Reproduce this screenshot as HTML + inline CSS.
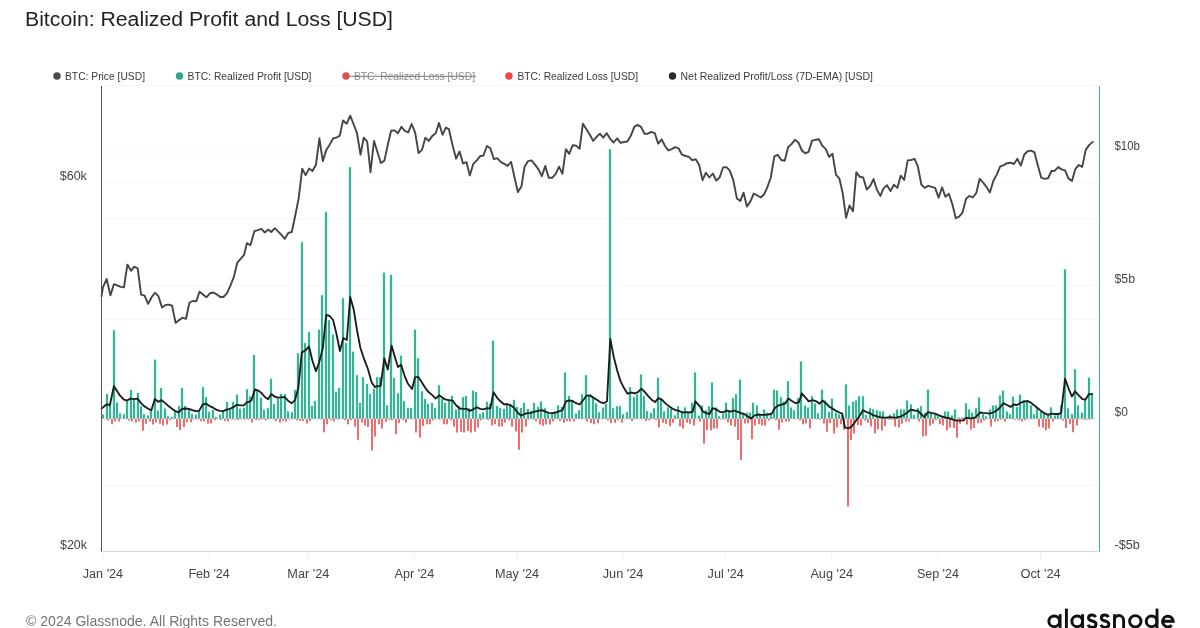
<!DOCTYPE html>
<html><head><meta charset="utf-8"><title>Bitcoin: Realized Profit and Loss [USD]</title>
<style>
html,body{margin:0;padding:0;background:#fff;}
body{width:1200px;height:628px;overflow:hidden;font-family:"Liberation Sans",sans-serif;}
svg{display:block;will-change:transform;opacity:0.999;font-family:"Liberation Sans",sans-serif;}
.t{font-size:20px;fill:#222;}
.lg text{font-size:11px;fill:#3a3a3a;}
.ax text{font-size:12px;fill:#444;}
.xl text{font-size:12.5px;fill:#444;}
.grid line{stroke:#f5f5f5;stroke-width:1;}
.tk line{stroke:#efefef;stroke-width:1;}
.ft{font-size:14px;fill:#757575;}
</style></head><body>
<svg width="1200" height="628" viewBox="0 0 1200 628">
<rect width="1200" height="628" fill="#fff"/>
<text class="t" x="25" y="26" textLength="368" lengthAdjust="spacingAndGlyphs">Bitcoin: Realized Profit and Loss [USD]</text>
<g class="lg">
<circle cx="57" cy="76" r="3.7" fill="#4a4a4a"/><text x="65" y="79.7" textLength="80" lengthAdjust="spacingAndGlyphs">BTC: Price [USD]</text>
<circle cx="179.5" cy="76" r="3.7" fill="#2ba98a"/><text x="187.5" y="79.7" textLength="124" lengthAdjust="spacingAndGlyphs">BTC: Realized Profit [USD]</text>
<circle cx="346" cy="76" r="3.7" fill="#ee4848"/><text x="354" y="79.7" textLength="121" lengthAdjust="spacingAndGlyphs" fill="#8a8a8a" style="fill:#8a8a8a">BTC: Realized Loss [USD]</text>
<line x1="343" x2="476" y1="76.3" y2="76.3" stroke="#7a7a7a" stroke-width="1"/>
<circle cx="509" cy="76" r="3.7" fill="#ee4848"/><text x="517.5" y="79.7" textLength="120.5" lengthAdjust="spacingAndGlyphs">BTC: Realized Loss [USD]</text>
<circle cx="672.5" cy="76" r="3.7" fill="#2b2b2b"/><text x="680.5" y="79.7" textLength="192.5" lengthAdjust="spacingAndGlyphs">Net Realized Profit/Loss (7D-EMA) [USD]</text>
</g>
<g class="grid"><line x1="104" x2="1097" y1="85.5" y2="85.5"/><line x1="104" x2="1097" y1="152" y2="152"/><line x1="104" x2="1097" y1="182.3" y2="182.3"/><line x1="104" x2="1097" y1="218.8" y2="218.8"/><line x1="104" x2="1097" y1="285.4" y2="285.4"/><line x1="104" x2="1097" y1="319.3" y2="319.3"/><line x1="104" x2="1097" y1="352" y2="352"/><line x1="104" x2="1097" y1="418.7" y2="418.7"/><line x1="104" x2="1097" y1="485.4" y2="485.4"/></g>
<line x1="102" x2="1100" y1="551.5" y2="551.5" stroke="#d9d9d9" stroke-width="1"/>
<g class="tk"><line x1="103" x2="103" y1="551.5" y2="559"/><line x1="209.1" x2="209.1" y1="551.5" y2="559"/><line x1="308.3" x2="308.3" y1="551.5" y2="559"/><line x1="414.4" x2="414.4" y1="551.5" y2="559"/><line x1="517" x2="517" y1="551.5" y2="559"/><line x1="623.1" x2="623.1" y1="551.5" y2="559"/><line x1="725.7" x2="725.7" y1="551.5" y2="559"/><line x1="831.8" x2="831.8" y1="551.5" y2="559"/><line x1="937.9" x2="937.9" y1="551.5" y2="559"/><line x1="1040.5" x2="1040.5" y1="551.5" y2="559"/></g>
<path d="M101.1 418.7h3.8v-4.9h-3.8zM105.1 418.7h3.8v-25.5h-3.8zM108.1 418.7h3.8v-15.8h-3.8zM112.1 418.7h3.8v-89.1h-3.8zM115.1 418.7h3.8v-17h-3.8zM118.1 418.7h3.8v-6.1h-3.8zM122.1 418.7h3.8v-5.2h-3.8zM125.1 418.7h3.8v-18.5h-3.8zM129.1 418.7h3.8v-29.5h-3.8zM132.1 418.7h3.8v-19.7h-3.8zM136.1 418.7h3.8v-26.6h-3.8zM139.1 418.7h3.8v-12.9h-3.8zM142.1 418.7h3.8v-5.2h-3.8zM146.1 418.7h3.8v-4h-3.8zM149.1 418.7h3.8v-8.2h-3.8zM153.1 418.7h3.8v-59.8h-3.8zM156.1 418.7h3.8v-9h-3.8zM159.1 418.7h3.8v-31.4h-3.8zM163.1 418.7h3.8v-11.1h-3.8zM166.1 418.7h3.8v-3.2h-3.8zM173.1 418.7h3.8v-7.8h-3.8zM177.1 418.7h3.8v-13.5h-3.8zM180.1 418.7h3.8v-31.4h-3.8zM183.1 418.7h3.8v-13.5h-3.8zM187.1 418.7h3.8v-10.8h-3.8zM190.1 418.7h3.8v-5.6h-3.8zM194.1 418.7h3.8v-4.8h-3.8zM197.1 418.7h3.8v-8.8h-3.8zM201.1 418.7h3.8v-32.3h-3.8zM204.1 418.7h3.8v-22.3h-3.8zM207.1 418.7h3.8v-7.6h-3.8zM211.1 418.7h3.8v-9.6h-3.8zM218.1 418.7h3.8v-4.8h-3.8zM221.1 418.7h3.8v-7.8h-3.8zM225.1 418.7h3.8v-17.5h-3.8zM228.1 418.7h3.8v-9.6h-3.8zM231.1 418.7h3.8v-17.5h-3.8zM235.1 418.7h3.8v-24.7h-3.8zM238.1 418.7h3.8v-10.8h-3.8zM242.1 418.7h3.8v-11.8h-3.8zM245.1 418.7h3.8v-30.3h-3.8zM248.1 418.7h3.8v-23.1h-3.8zM252.1 418.7h3.8v-64.5h-3.8zM255.1 418.7h3.8v-28.7h-3.8zM259.1 418.7h3.8v-21.5h-3.8zM262.1 418.7h3.8v-9.6h-3.8zM266.1 418.7h3.8v-11.2h-3.8zM269.1 418.7h3.8v-40.6h-3.8zM272.1 418.7h3.8v-15.4h-3.8zM276.1 418.7h3.8v-20.7h-3.8zM279.1 418.7h3.8v-25.5h-3.8zM283.1 418.7h3.8v-25.5h-3.8zM286.1 418.7h3.8v-8.3h-3.8zM290.1 418.7h3.8v-7.2h-3.8zM293.1 418.7h3.8v-29.5h-3.8zM296.1 418.7h3.8v-66.1h-3.8zM300.1 418.7h3.8v-177.3h-3.8zM303.1 418.7h3.8v-76.4h-3.8zM307.1 418.7h3.8v-87.5h-3.8zM310.1 418.7h3.8v-13.5h-3.8zM313.1 418.7h3.8v-18.6h-3.8zM317.1 418.7h3.8v-89.8h-3.8zM320.1 418.7h3.8v-124.2h-3.8zM324.1 418.7h3.8v-207.3h-3.8zM327.1 418.7h3.8v-99.3h-3.8zM331.1 418.7h3.8v-84.8h-3.8zM334.1 418.7h3.8v-27.8h-3.8zM337.1 418.7h3.8v-31.4h-3.8zM341.1 418.7h3.8v-121.3h-3.8zM344.1 418.7h3.8v-76.5h-3.8zM348.1 418.7h3.8v-252.3h-3.8zM351.1 418.7h3.8v-67.7h-3.8zM355.1 418.7h3.8v-44.3h-3.8zM358.1 418.7h3.8v-16.4h-3.8zM361.1 418.7h3.8v-42.2h-3.8zM365.1 418.7h3.8v-35.5h-3.8zM368.1 418.7h3.8v-25.5h-3.8zM372.1 418.7h3.8v-30.8h-3.8zM375.1 418.7h3.8v-42.2h-3.8zM378.1 418.7h3.8v-42.2h-3.8zM382.1 418.7h3.8v-146.8h-3.8zM385.1 418.7h3.8v-14.3h-3.8zM389.1 418.7h3.8v-144.5h-3.8zM392.1 418.7h3.8v-41.4h-3.8zM396.1 418.7h3.8v-26.3h-3.8zM399.1 418.7h3.8v-63.7h-3.8zM402.1 418.7h3.8v-18.3h-3.8zM406.1 418.7h3.8v-11.5h-3.8zM409.1 418.7h3.8v-11.5h-3.8zM413.1 418.7h3.8v-89.8h-3.8zM416.1 418.7h3.8v-61.3h-3.8zM420.1 418.7h3.8v-28.3h-3.8zM423.1 418.7h3.8v-20.4h-3.8zM426.1 418.7h3.8v-15.4h-3.8zM430.1 418.7h3.8v-16.4h-3.8zM433.1 418.7h3.8v-11.5h-3.8zM437.1 418.7h3.8v-34.2h-3.8zM440.1 418.7h3.8v-20.7h-3.8zM443.1 418.7h3.8v-16.4h-3.8zM447.1 418.7h3.8v-19.8h-3.8zM450.1 418.7h3.8v-23.6h-3.8zM454.1 418.7h3.8v-10h-3.8zM457.1 418.7h3.8v-13.5h-3.8zM461.1 418.7h3.8v-22.3h-3.8zM464.1 418.7h3.8v-23.6h-3.8zM467.1 418.7h3.8v-11.2h-3.8zM471.1 418.7h3.8v-28.7h-3.8zM474.1 418.7h3.8v-27.4h-3.8zM478.1 418.7h3.8v-5.6h-3.8zM481.1 418.7h3.8v-7.2h-3.8zM485.1 418.7h3.8v-17.5h-3.8zM488.1 418.7h3.8v-15.4h-3.8zM491.1 418.7h3.8v-78.8h-3.8zM495.1 418.7h3.8v-13.5h-3.8zM498.1 418.7h3.8v-11.5h-3.8zM502.1 418.7h3.8v-10.4h-3.8zM505.1 418.7h3.8v-15.8h-3.8zM508.1 418.7h3.8v-15.4h-3.8zM512.1 418.7h3.8v-19.4h-3.8zM515.1 418.7h3.8v-12.4h-3.8zM519.1 418.7h3.8v-11.5h-3.8zM522.1 418.7h3.8v-16.4h-3.8zM526.1 418.7h3.8v-10.4h-3.8zM529.1 418.7h3.8v-8.8h-3.8zM532.1 418.7h3.8v-16.4h-3.8zM536.1 418.7h3.8v-12.4h-3.8zM539.1 418.7h3.8v-18h-3.8zM543.1 418.7h3.8v-11.2h-3.8zM546.1 418.7h3.8v-6.1h-3.8zM550.1 418.7h3.8v-6.1h-3.8zM553.1 418.7h3.8v-6.8h-3.8zM556.1 418.7h3.8v-14.3h-3.8zM560.1 418.7h3.8v-12.4h-3.8zM563.1 418.7h3.8v-46.7h-3.8zM567.1 418.7h3.8v-23.6h-3.8zM570.1 418.7h3.8v-18h-3.8zM574.1 418.7h3.8v-6.1h-3.8zM577.1 418.7h3.8v-9.2h-3.8zM580.1 418.7h3.8v-25.2h-3.8zM584.1 418.7h3.8v-44.3h-3.8zM587.1 418.7h3.8v-24.4h-3.8zM591.1 418.7h3.8v-21.2h-3.8zM594.1 418.7h3.8v-16.1h-3.8zM597.1 418.7h3.8v-7.3h-3.8zM601.1 418.7h3.8v-12.1h-3.8zM604.1 418.7h3.8v-15.6h-3.8zM608.1 418.7h3.8v-270.3h-3.8zM611.1 418.7h3.8v-11.2h-3.8zM615.1 418.7h3.8v-13.2h-3.8zM618.1 418.7h3.8v-13.2h-3.8zM621.1 418.7h3.8v-5.3h-3.8zM625.1 418.7h3.8v-7.3h-3.8zM628.1 418.7h3.8v-32.3h-3.8zM632.1 418.7h3.8v-22.3h-3.8zM635.1 418.7h3.8v-25.2h-3.8zM639.1 418.7h3.8v-45.1h-3.8zM642.1 418.7h3.8v-23.3h-3.8zM645.1 418.7h3.8v-8.4h-3.8zM649.1 418.7h3.8v-6.4h-3.8zM652.1 418.7h3.8v-11.2h-3.8zM656.1 418.7h3.8v-41.4h-3.8zM659.1 418.7h3.8v-20.1h-3.8zM662.1 418.7h3.8v-8.1h-3.8zM666.1 418.7h3.8v-12.1h-3.8zM669.1 418.7h3.8v-10.8h-3.8zM673.1 418.7h3.8v-4.1h-3.8zM676.1 418.7h3.8v-13.2h-3.8zM680.1 418.7h3.8v-8.4h-3.8zM683.1 418.7h3.8v-12.1h-3.8zM686.1 418.7h3.8v-6.1h-3.8zM690.1 418.7h3.8v-16.8h-3.8zM693.1 418.7h3.8v-47h-3.8zM697.1 418.7h3.8v-3.7h-3.8zM700.1 418.7h3.8v-14h-3.8zM704.1 418.7h3.8v-9.2h-3.8zM707.1 418.7h3.8v-13.2h-3.8zM710.1 418.7h3.8v-37.1h-3.8zM714.1 418.7h3.8v-12.1h-3.8zM717.1 418.7h3.8v-3.2h-3.8zM721.1 418.7h3.8v-6.1h-3.8zM724.1 418.7h3.8v-16.8h-3.8zM727.1 418.7h3.8v-8.4h-3.8zM731.1 418.7h3.8v-21.2h-3.8zM734.1 418.7h3.8v-25.2h-3.8zM738.1 418.7h3.8v-39.8h-3.8zM741.1 418.7h3.8v-5.3h-3.8zM745.1 418.7h3.8v-6.8h-3.8zM748.1 418.7h3.8v-6.8h-3.8zM751.1 418.7h3.8v-16.8h-3.8zM755.1 418.7h3.8v-14h-3.8zM758.1 418.7h3.8v-5.3h-3.8zM762.1 418.7h3.8v-10h-3.8zM765.1 418.7h3.8v-6.8h-3.8zM769.1 418.7h3.8v-6.1h-3.8zM772.1 418.7h3.8v-29.8h-3.8zM775.1 418.7h3.8v-29.1h-3.8zM779.1 418.7h3.8v-22.3h-3.8zM782.1 418.7h3.8v-18h-3.8zM786.1 418.7h3.8v-38.2h-3.8zM789.1 418.7h3.8v-12.1h-3.8zM792.1 418.7h3.8v-9.2h-3.8zM796.1 418.7h3.8v-21.2h-3.8zM799.1 418.7h3.8v-58.1h-3.8zM803.1 418.7h3.8v-14h-3.8zM806.1 418.7h3.8v-12.1h-3.8zM810.1 418.7h3.8v-23.3h-3.8zM813.1 418.7h3.8v-16.1h-3.8zM816.1 418.7h3.8v-6.1h-3.8zM820.1 418.7h3.8v-29.8h-3.8zM823.1 418.7h3.8v-19.1h-3.8zM827.1 418.7h3.8v-7.6h-3.8zM830.1 418.7h3.8v-20.8h-3.8zM834.1 418.7h3.8v-6.8h-3.8zM837.1 418.7h3.8v-5.3h-3.8zM840.1 418.7h3.8v-4.5h-3.8zM844.1 418.7h3.8v-35h-3.8zM847.1 418.7h3.8v-14h-3.8zM851.1 418.7h3.8v-17.7h-3.8zM854.1 418.7h3.8v-19.1h-3.8zM857.1 418.7h3.8v-23.3h-3.8zM861.1 418.7h3.8v-23.3h-3.8zM864.1 418.7h3.8v-4.5h-3.8zM868.1 418.7h3.8v-11.2h-3.8zM871.1 418.7h3.8v-10h-3.8zM875.1 418.7h3.8v-9.2h-3.8zM878.1 418.7h3.8v-8.1h-3.8zM881.1 418.7h3.8v-8.1h-3.8zM888.1 418.7h3.8v-4.5h-3.8zM892.1 418.7h3.8v-6.1h-3.8zM895.1 418.7h3.8v-10h-3.8zM899.1 418.7h3.8v-10h-3.8zM902.1 418.7h3.8v-10h-3.8zM905.1 418.7h3.8v-19.1h-3.8zM909.1 418.7h3.8v-15.1h-3.8zM912.1 418.7h3.8v-4.5h-3.8zM916.1 418.7h3.8v-11.2h-3.8zM919.1 418.7h3.8v-13.2h-3.8zM923.1 418.7h3.8v-6.8h-3.8zM926.1 418.7h3.8v-29.8h-3.8zM929.1 418.7h3.8v-6.1h-3.8zM933.1 418.7h3.8v-4.5h-3.8zM936.1 418.7h3.8v-3.2h-3.8zM940.1 418.7h3.8v-3.2h-3.8zM943.1 418.7h3.8v-8.1h-3.8zM946.1 418.7h3.8v-8.1h-3.8zM950.1 418.7h3.8v-4.1h-3.8zM953.1 418.7h3.8v-10h-3.8zM964.1 418.7h3.8v-16.1h-3.8zM967.1 418.7h3.8v-10h-3.8zM970.1 418.7h3.8v-6.8h-3.8zM974.1 418.7h3.8v-11.2h-3.8zM977.1 418.7h3.8v-22h-3.8zM981.1 418.7h3.8v-5.3h-3.8zM984.1 418.7h3.8v-3.2h-3.8zM988.1 418.7h3.8v-10h-3.8zM991.1 418.7h3.8v-14h-3.8zM994.1 418.7h3.8v-14h-3.8zM998.1 418.7h3.8v-24h-3.8zM1001.1 418.7h3.8v-28.7h-3.8zM1005.1 418.7h3.8v-8.1h-3.8zM1008.1 418.7h3.8v-5.3h-3.8zM1011.1 418.7h3.8v-22.8h-3.8zM1015.1 418.7h3.8v-12.4h-3.8zM1018.1 418.7h3.8v-24.8h-3.8zM1022.1 418.7h3.8v-19.6h-3.8zM1025.1 418.7h3.8v-18h-3.8zM1029.1 418.7h3.8v-14h-3.8zM1032.1 418.7h3.8v-5.3h-3.8zM1035.1 418.7h3.8v-11.2h-3.8zM1039.1 418.7h3.8v-7.6h-3.8zM1042.1 418.7h3.8v-6.1h-3.8zM1046.1 418.7h3.8v-5.3h-3.8zM1049.1 418.7h3.8v-12.1h-3.8zM1053.1 418.7h3.8v-4.1h-3.8zM1056.1 418.7h3.8v-5.3h-3.8zM1059.1 418.7h3.8v-14h-3.8zM1063.1 418.7h3.8v-150.1h-3.8zM1066.1 418.7h3.8v-11.2h-3.8zM1070.1 418.7h3.8v-5.3h-3.8zM1073.1 418.7h3.8v-50.2h-3.8zM1076.1 418.7h3.8v-14h-3.8zM1080.1 418.7h3.8v-6.8h-3.8zM1083.1 418.7h3.8v-19.6h-3.8zM1087.1 418.7h3.8v-41.8h-3.8zM1090.1 418.7h3.8v-26h-3.8z" fill="#d6fbf5"/>
<path d="M102.1 418.7h1.8v-4.1h-1.8zM106.1 418.7h1.8v-24.7h-1.8zM109.1 418.7h1.8v-15h-1.8zM113.1 418.7h1.8v-88.3h-1.8zM116.1 418.7h1.8v-16.2h-1.8zM119.1 418.7h1.8v-5.3h-1.8zM123.1 418.7h1.8v-4.4h-1.8zM126.1 418.7h1.8v-17.7h-1.8zM130.1 418.7h1.8v-28.7h-1.8zM133.1 418.7h1.8v-18.9h-1.8zM137.1 418.7h1.8v-25.8h-1.8zM140.1 418.7h1.8v-12.1h-1.8zM143.1 418.7h1.8v-4.4h-1.8zM147.1 418.7h1.8v-3.2h-1.8zM150.1 418.7h1.8v-7.4h-1.8zM154.1 418.7h1.8v-59h-1.8zM157.1 418.7h1.8v-8.2h-1.8zM160.1 418.7h1.8v-30.6h-1.8zM164.1 418.7h1.8v-10.3h-1.8zM167.1 418.7h1.8v-2.4h-1.8zM171.1 418.7h1.8v-1.6h-1.8zM174.1 418.7h1.8v-7h-1.8zM178.1 418.7h1.8v-12.7h-1.8zM181.1 418.7h1.8v-30.6h-1.8zM184.1 418.7h1.8v-12.7h-1.8zM188.1 418.7h1.8v-10h-1.8zM191.1 418.7h1.8v-4.8h-1.8zM195.1 418.7h1.8v-4h-1.8zM198.1 418.7h1.8v-8h-1.8zM202.1 418.7h1.8v-31.5h-1.8zM205.1 418.7h1.8v-21.5h-1.8zM208.1 418.7h1.8v-6.8h-1.8zM212.1 418.7h1.8v-8.8h-1.8zM215.1 418.7h1.8v-1.6h-1.8zM219.1 418.7h1.8v-4h-1.8zM222.1 418.7h1.8v-7h-1.8zM226.1 418.7h1.8v-16.7h-1.8zM229.1 418.7h1.8v-8.8h-1.8zM232.1 418.7h1.8v-16.7h-1.8zM236.1 418.7h1.8v-23.9h-1.8zM239.1 418.7h1.8v-10h-1.8zM243.1 418.7h1.8v-11h-1.8zM246.1 418.7h1.8v-29.5h-1.8zM249.1 418.7h1.8v-22.3h-1.8zM253.1 418.7h1.8v-63.7h-1.8zM256.1 418.7h1.8v-27.9h-1.8zM260.1 418.7h1.8v-20.7h-1.8zM263.1 418.7h1.8v-8.8h-1.8zM267.1 418.7h1.8v-10.4h-1.8zM270.1 418.7h1.8v-39.8h-1.8zM273.1 418.7h1.8v-14.6h-1.8zM277.1 418.7h1.8v-19.9h-1.8zM280.1 418.7h1.8v-24.7h-1.8zM284.1 418.7h1.8v-24.7h-1.8zM287.1 418.7h1.8v-7.5h-1.8zM291.1 418.7h1.8v-6.4h-1.8zM294.1 418.7h1.8v-28.7h-1.8zM297.1 418.7h1.8v-65.3h-1.8zM301.1 418.7h1.8v-176.5h-1.8zM304.1 418.7h1.8v-75.6h-1.8zM308.1 418.7h1.8v-86.7h-1.8zM311.1 418.7h1.8v-12.7h-1.8zM314.1 418.7h1.8v-17.8h-1.8zM318.1 418.7h1.8v-89h-1.8zM321.1 418.7h1.8v-123.4h-1.8zM325.1 418.7h1.8v-206.5h-1.8zM328.1 418.7h1.8v-98.5h-1.8zM332.1 418.7h1.8v-84h-1.8zM335.1 418.7h1.8v-27h-1.8zM338.1 418.7h1.8v-30.6h-1.8zM342.1 418.7h1.8v-120.5h-1.8zM345.1 418.7h1.8v-75.7h-1.8zM349.1 418.7h1.8v-251.5h-1.8zM352.1 418.7h1.8v-66.9h-1.8zM356.1 418.7h1.8v-43.5h-1.8zM359.1 418.7h1.8v-15.6h-1.8zM362.1 418.7h1.8v-41.4h-1.8zM366.1 418.7h1.8v-34.7h-1.8zM369.1 418.7h1.8v-24.7h-1.8zM373.1 418.7h1.8v-30h-1.8zM376.1 418.7h1.8v-41.4h-1.8zM379.1 418.7h1.8v-41.4h-1.8zM383.1 418.7h1.8v-146h-1.8zM386.1 418.7h1.8v-13.5h-1.8zM390.1 418.7h1.8v-143.7h-1.8zM393.1 418.7h1.8v-40.6h-1.8zM397.1 418.7h1.8v-25.5h-1.8zM400.1 418.7h1.8v-62.9h-1.8zM403.1 418.7h1.8v-17.5h-1.8zM407.1 418.7h1.8v-10.7h-1.8zM410.1 418.7h1.8v-10.7h-1.8zM414.1 418.7h1.8v-89h-1.8zM417.1 418.7h1.8v-60.5h-1.8zM421.1 418.7h1.8v-27.5h-1.8zM424.1 418.7h1.8v-19.6h-1.8zM427.1 418.7h1.8v-14.6h-1.8zM431.1 418.7h1.8v-15.6h-1.8zM434.1 418.7h1.8v-10.7h-1.8zM438.1 418.7h1.8v-33.4h-1.8zM441.1 418.7h1.8v-19.9h-1.8zM444.1 418.7h1.8v-15.6h-1.8zM448.1 418.7h1.8v-19h-1.8zM451.1 418.7h1.8v-22.8h-1.8zM455.1 418.7h1.8v-9.2h-1.8zM458.1 418.7h1.8v-12.7h-1.8zM462.1 418.7h1.8v-21.5h-1.8zM465.1 418.7h1.8v-22.8h-1.8zM468.1 418.7h1.8v-10.4h-1.8zM472.1 418.7h1.8v-27.9h-1.8zM475.1 418.7h1.8v-26.6h-1.8zM479.1 418.7h1.8v-4.8h-1.8zM482.1 418.7h1.8v-6.4h-1.8zM486.1 418.7h1.8v-16.7h-1.8zM489.1 418.7h1.8v-14.6h-1.8zM492.1 418.7h1.8v-78h-1.8zM496.1 418.7h1.8v-12.7h-1.8zM499.1 418.7h1.8v-10.7h-1.8zM503.1 418.7h1.8v-9.6h-1.8zM506.1 418.7h1.8v-15h-1.8zM509.1 418.7h1.8v-14.6h-1.8zM513.1 418.7h1.8v-18.6h-1.8zM516.1 418.7h1.8v-11.6h-1.8zM520.1 418.7h1.8v-10.7h-1.8zM523.1 418.7h1.8v-15.6h-1.8zM527.1 418.7h1.8v-9.6h-1.8zM530.1 418.7h1.8v-8h-1.8zM533.1 418.7h1.8v-15.6h-1.8zM537.1 418.7h1.8v-11.6h-1.8zM540.1 418.7h1.8v-17.2h-1.8zM544.1 418.7h1.8v-10.4h-1.8zM547.1 418.7h1.8v-5.3h-1.8zM551.1 418.7h1.8v-5.3h-1.8zM554.1 418.7h1.8v-6h-1.8zM557.1 418.7h1.8v-13.5h-1.8zM561.1 418.7h1.8v-11.6h-1.8zM564.1 418.7h1.8v-45.9h-1.8zM568.1 418.7h1.8v-22.8h-1.8zM571.1 418.7h1.8v-17.2h-1.8zM575.1 418.7h1.8v-5.3h-1.8zM578.1 418.7h1.8v-8.4h-1.8zM581.1 418.7h1.8v-24.4h-1.8zM585.1 418.7h1.8v-43.5h-1.8zM588.1 418.7h1.8v-23.6h-1.8zM592.1 418.7h1.8v-20.4h-1.8zM595.1 418.7h1.8v-15.3h-1.8zM598.1 418.7h1.8v-6.5h-1.8zM602.1 418.7h1.8v-11.3h-1.8zM605.1 418.7h1.8v-14.8h-1.8zM609.1 418.7h1.8v-269.5h-1.8zM612.1 418.7h1.8v-10.4h-1.8zM616.1 418.7h1.8v-12.4h-1.8zM619.1 418.7h1.8v-12.4h-1.8zM622.1 418.7h1.8v-4.5h-1.8zM626.1 418.7h1.8v-6.5h-1.8zM629.1 418.7h1.8v-31.5h-1.8zM633.1 418.7h1.8v-21.5h-1.8zM636.1 418.7h1.8v-24.4h-1.8zM640.1 418.7h1.8v-44.3h-1.8zM643.1 418.7h1.8v-22.5h-1.8zM646.1 418.7h1.8v-7.6h-1.8zM650.1 418.7h1.8v-5.6h-1.8zM653.1 418.7h1.8v-10.4h-1.8zM657.1 418.7h1.8v-40.6h-1.8zM660.1 418.7h1.8v-19.3h-1.8zM663.1 418.7h1.8v-7.3h-1.8zM667.1 418.7h1.8v-11.3h-1.8zM670.1 418.7h1.8v-10h-1.8zM674.1 418.7h1.8v-3.3h-1.8zM677.1 418.7h1.8v-12.4h-1.8zM681.1 418.7h1.8v-7.6h-1.8zM684.1 418.7h1.8v-11.3h-1.8zM687.1 418.7h1.8v-5.3h-1.8zM691.1 418.7h1.8v-16h-1.8zM694.1 418.7h1.8v-46.2h-1.8zM698.1 418.7h1.8v-2.9h-1.8zM701.1 418.7h1.8v-13.2h-1.8zM705.1 418.7h1.8v-8.4h-1.8zM708.1 418.7h1.8v-12.4h-1.8zM711.1 418.7h1.8v-36.3h-1.8zM715.1 418.7h1.8v-11.3h-1.8zM718.1 418.7h1.8v-2.4h-1.8zM722.1 418.7h1.8v-5.3h-1.8zM725.1 418.7h1.8v-16h-1.8zM728.1 418.7h1.8v-7.6h-1.8zM732.1 418.7h1.8v-20.4h-1.8zM735.1 418.7h1.8v-24.4h-1.8zM739.1 418.7h1.8v-39h-1.8zM742.1 418.7h1.8v-4.5h-1.8zM746.1 418.7h1.8v-6h-1.8zM749.1 418.7h1.8v-6h-1.8zM752.1 418.7h1.8v-16h-1.8zM756.1 418.7h1.8v-13.2h-1.8zM759.1 418.7h1.8v-4.5h-1.8zM763.1 418.7h1.8v-9.2h-1.8zM766.1 418.7h1.8v-6h-1.8zM770.1 418.7h1.8v-5.3h-1.8zM773.1 418.7h1.8v-29h-1.8zM776.1 418.7h1.8v-28.3h-1.8zM780.1 418.7h1.8v-21.5h-1.8zM783.1 418.7h1.8v-17.2h-1.8zM787.1 418.7h1.8v-37.4h-1.8zM790.1 418.7h1.8v-11.3h-1.8zM793.1 418.7h1.8v-8.4h-1.8zM797.1 418.7h1.8v-20.4h-1.8zM800.1 418.7h1.8v-57.3h-1.8zM804.1 418.7h1.8v-13.2h-1.8zM807.1 418.7h1.8v-11.3h-1.8zM811.1 418.7h1.8v-22.5h-1.8zM814.1 418.7h1.8v-15.3h-1.8zM817.1 418.7h1.8v-5.3h-1.8zM821.1 418.7h1.8v-29h-1.8zM824.1 418.7h1.8v-18.3h-1.8zM828.1 418.7h1.8v-6.8h-1.8zM831.1 418.7h1.8v-20h-1.8zM835.1 418.7h1.8v-6h-1.8zM838.1 418.7h1.8v-4.5h-1.8zM841.1 418.7h1.8v-3.7h-1.8zM845.1 418.7h1.8v-34.2h-1.8zM848.1 418.7h1.8v-13.2h-1.8zM852.1 418.7h1.8v-16.9h-1.8zM855.1 418.7h1.8v-18.3h-1.8zM858.1 418.7h1.8v-22.5h-1.8zM862.1 418.7h1.8v-22.5h-1.8zM865.1 418.7h1.8v-3.7h-1.8zM869.1 418.7h1.8v-10.4h-1.8zM872.1 418.7h1.8v-9.2h-1.8zM876.1 418.7h1.8v-8.4h-1.8zM879.1 418.7h1.8v-7.3h-1.8zM882.1 418.7h1.8v-7.3h-1.8zM886.1 418.7h1.8v-1.3h-1.8zM889.1 418.7h1.8v-3.7h-1.8zM893.1 418.7h1.8v-5.3h-1.8zM896.1 418.7h1.8v-9.2h-1.8zM900.1 418.7h1.8v-9.2h-1.8zM903.1 418.7h1.8v-9.2h-1.8zM906.1 418.7h1.8v-18.3h-1.8zM910.1 418.7h1.8v-14.3h-1.8zM913.1 418.7h1.8v-3.7h-1.8zM917.1 418.7h1.8v-10.4h-1.8zM920.1 418.7h1.8v-12.4h-1.8zM924.1 418.7h1.8v-6h-1.8zM927.1 418.7h1.8v-29h-1.8zM930.1 418.7h1.8v-5.3h-1.8zM934.1 418.7h1.8v-3.7h-1.8zM937.1 418.7h1.8v-2.4h-1.8zM941.1 418.7h1.8v-2.4h-1.8zM944.1 418.7h1.8v-7.3h-1.8zM947.1 418.7h1.8v-7.3h-1.8zM951.1 418.7h1.8v-3.3h-1.8zM954.1 418.7h1.8v-9.2h-1.8zM958.1 418.7h1.8v-1.3h-1.8zM961.1 418.7h1.8v-1.3h-1.8zM965.1 418.7h1.8v-15.3h-1.8zM968.1 418.7h1.8v-9.2h-1.8zM971.1 418.7h1.8v-6h-1.8zM975.1 418.7h1.8v-10.4h-1.8zM978.1 418.7h1.8v-21.2h-1.8zM982.1 418.7h1.8v-4.5h-1.8zM985.1 418.7h1.8v-2.4h-1.8zM989.1 418.7h1.8v-9.2h-1.8zM992.1 418.7h1.8v-13.2h-1.8zM995.1 418.7h1.8v-13.2h-1.8zM999.1 418.7h1.8v-23.2h-1.8zM1002.1 418.7h1.8v-27.9h-1.8zM1006.1 418.7h1.8v-7.3h-1.8zM1009.1 418.7h1.8v-4.5h-1.8zM1012.1 418.7h1.8v-22h-1.8zM1016.1 418.7h1.8v-11.6h-1.8zM1019.1 418.7h1.8v-24h-1.8zM1023.1 418.7h1.8v-18.8h-1.8zM1026.1 418.7h1.8v-17.2h-1.8zM1030.1 418.7h1.8v-13.2h-1.8zM1033.1 418.7h1.8v-4.5h-1.8zM1036.1 418.7h1.8v-10.4h-1.8zM1040.1 418.7h1.8v-6.8h-1.8zM1043.1 418.7h1.8v-5.3h-1.8zM1047.1 418.7h1.8v-4.5h-1.8zM1050.1 418.7h1.8v-11.3h-1.8zM1054.1 418.7h1.8v-3.3h-1.8zM1057.1 418.7h1.8v-4.5h-1.8zM1060.1 418.7h1.8v-13.2h-1.8zM1064.1 418.7h1.8v-149.3h-1.8zM1067.1 418.7h1.8v-10.4h-1.8zM1071.1 418.7h1.8v-4.5h-1.8zM1074.1 418.7h1.8v-49.4h-1.8zM1077.1 418.7h1.8v-13.2h-1.8zM1081.1 418.7h1.8v-6h-1.8zM1084.1 418.7h1.8v-18.8h-1.8zM1088.1 418.7h1.8v-41h-1.8zM1091.1 418.7h1.8v-25.2h-1.8z" fill="#2ba98a"/>
<path d="M104.2 418.7h1.6v0.6h-1.6zM107.2 418.7h1.6v1.8h-1.6zM111.2 418.7h1.6v5.6h-1.6zM114.2 418.7h1.6v2.7h-1.6zM118.2 418.7h1.6v2.7h-1.6zM121.2 418.7h1.6v0.6h-1.6zM125.2 418.7h1.6v0.5h-1.6zM128.2 418.7h1.6v1.8h-1.6zM131.2 418.7h1.6v2.7h-1.6zM135.2 418.7h1.6v3.8h-1.6zM138.2 418.7h1.6v2.7h-1.6zM142.2 418.7h1.6v12h-1.6zM145.2 418.7h1.6v5h-1.6zM149.2 418.7h1.6v2.7h-1.6zM152.2 418.7h1.6v5.9h-1.6zM155.2 418.7h1.6v3.5h-1.6zM159.2 418.7h1.6v5h-1.6zM162.2 418.7h1.6v6.8h-1.6zM166.2 418.7h1.6v5.9h-1.6zM169.2 418.7h1.6v1.6h-1.6zM172.2 418.7h1.6v0.5h-1.6zM176.2 418.7h1.6v8.4h-1.6zM179.2 418.7h1.6v11.6h-1.6zM183.2 418.7h1.6v8.4h-1.6zM186.2 418.7h1.6v3.5h-1.6zM190.2 418.7h1.6v3.5h-1.6zM193.2 418.7h1.6v0.8h-1.6zM196.2 418.7h1.6v0.8h-1.6zM200.2 418.7h1.6v2.4h-1.6zM203.2 418.7h1.6v2.7h-1.6zM207.2 418.7h1.6v4.8h-1.6zM210.2 418.7h1.6v4.8h-1.6zM214.2 418.7h1.6v1.6h-1.6zM217.2 418.7h1.6v0.5h-1.6zM220.2 418.7h1.6v1.3h-1.6zM224.2 418.7h1.6v2.4h-1.6zM227.2 418.7h1.6v2.7h-1.6zM231.2 418.7h1.6v0.8h-1.6zM234.2 418.7h1.6v0.8h-1.6zM237.2 418.7h1.6v1.3h-1.6zM241.2 418.7h1.6v0.8h-1.6zM244.2 418.7h1.6v0.8h-1.6zM248.2 418.7h1.6v0.8h-1.6zM251.2 418.7h1.6v3.7h-1.6zM255.2 418.7h1.6v1.3h-1.6zM258.2 418.7h1.6v1.3h-1.6zM261.2 418.7h1.6v0.8h-1.6zM265.2 418.7h1.6v1.6h-1.6zM268.2 418.7h1.6v0.5h-1.6zM272.2 418.7h1.6v0.5h-1.6zM275.2 418.7h1.6v2.4h-1.6zM279.2 418.7h1.6v3.7h-1.6zM282.2 418.7h1.6v2h-1.6zM285.2 418.7h1.6v2.7h-1.6zM289.2 418.7h1.6v0.8h-1.6zM292.2 418.7h1.6v0.5h-1.6zM296.2 418.7h1.6v1.6h-1.6zM299.2 418.7h1.6v2h-1.6zM302.2 418.7h1.6v2.4h-1.6zM306.2 418.7h1.6v4.8h-1.6zM309.2 418.7h1.6v2.4h-1.6zM313.2 418.7h1.6v0.5h-1.6zM316.2 418.7h1.6v0.5h-1.6zM320.2 418.7h1.6v0.8h-1.6zM323.2 418.7h1.6v13.5h-1.6zM326.2 418.7h1.6v5.6h-1.6zM330.2 418.7h1.6v1.6h-1.6zM333.2 418.7h1.6v2.7h-1.6zM337.2 418.7h1.6v0.8h-1.6zM340.2 418.7h1.6v0.5h-1.6zM344.2 418.7h1.6v1.6h-1.6zM347.2 418.7h1.6v5.5h-1.6zM350.2 418.7h1.6v1.6h-1.6zM354.2 418.7h1.6v7.7h-1.6zM357.2 418.7h1.6v21h-1.6zM361.2 418.7h1.6v3.8h-1.6zM364.2 418.7h1.6v6.7h-1.6zM367.2 418.7h1.6v8.3h-1.6zM371.2 418.7h1.6v31.7h-1.6zM374.2 418.7h1.6v17.7h-1.6zM378.2 418.7h1.6v5.5h-1.6zM381.2 418.7h1.6v9.7h-1.6zM385.2 418.7h1.6v3h-1.6zM388.2 418.7h1.6v1.3h-1.6zM391.2 418.7h1.6v1.6h-1.6zM395.2 418.7h1.6v15.5h-1.6zM398.2 418.7h1.6v4.3h-1.6zM402.2 418.7h1.6v1.3h-1.6zM405.2 418.7h1.6v3.8h-1.6zM409.2 418.7h1.6v0.5h-1.6zM412.2 418.7h1.6v0.5h-1.6zM415.2 418.7h1.6v13.8h-1.6zM419.2 418.7h1.6v18.8h-1.6zM422.2 418.7h1.6v7.2h-1.6zM426.2 418.7h1.6v5.5h-1.6zM429.2 418.7h1.6v5.5h-1.6zM432.2 418.7h1.6v1.6h-1.6zM436.2 418.7h1.6v0.5h-1.6zM439.2 418.7h1.6v0.8h-1.6zM443.2 418.7h1.6v5.5h-1.6zM446.2 418.7h1.6v5.5h-1.6zM450.2 418.7h1.6v1.6h-1.6zM453.2 418.7h1.6v7.7h-1.6zM456.2 418.7h1.6v13.8h-1.6zM460.2 418.7h1.6v13h-1.6zM463.2 418.7h1.6v13.8h-1.6zM467.2 418.7h1.6v12.2h-1.6zM470.2 418.7h1.6v13.8h-1.6zM474.2 418.7h1.6v13h-1.6zM477.2 418.7h1.6v8.8h-1.6zM480.2 418.7h1.6v1.6h-1.6zM484.2 418.7h1.6v0.5h-1.6zM487.2 418.7h1.6v1.3h-1.6zM491.2 418.7h1.6v6.7h-1.6zM494.2 418.7h1.6v5.5h-1.6zM498.2 418.7h1.6v7.7h-1.6zM501.2 418.7h1.6v7.7h-1.6zM504.2 418.7h1.6v3.8h-1.6zM508.2 418.7h1.6v1.6h-1.6zM511.2 418.7h1.6v7.7h-1.6zM515.2 418.7h1.6v12.7h-1.6zM518.2 418.7h1.6v31h-1.6zM521.2 418.7h1.6v13.8h-1.6zM525.2 418.7h1.6v7.7h-1.6zM528.2 418.7h1.6v0.8h-1.6zM532.2 418.7h1.6v0.8h-1.6zM535.2 418.7h1.6v2.5h-1.6zM539.2 418.7h1.6v5.8h-1.6zM542.2 418.7h1.6v7h-1.6zM545.2 418.7h1.6v5.9h-1.6zM549.2 418.7h1.6v5.9h-1.6zM552.2 418.7h1.6v2.7h-1.6zM556.2 418.7h1.6v0.5h-1.6zM559.2 418.7h1.6v2.4h-1.6zM563.2 418.7h1.6v4h-1.6zM566.2 418.7h1.6v2.4h-1.6zM569.2 418.7h1.6v2.7h-1.6zM573.2 418.7h1.6v2.7h-1.6zM576.2 418.7h1.6v0.5h-1.6zM580.2 418.7h1.6v0.5h-1.6zM583.2 418.7h1.6v0.5h-1.6zM586.2 418.7h1.6v2.7h-1.6zM590.2 418.7h1.6v4.3h-1.6zM593.2 418.7h1.6v5.6h-1.6zM597.2 418.7h1.6v4.6h-1.6zM600.2 418.7h1.6v0.5h-1.6zM604.2 418.7h1.6v0.5h-1.6zM607.2 418.7h1.6v1.9h-1.6zM610.2 418.7h1.6v4.3h-1.6zM614.2 418.7h1.6v4h-1.6zM617.2 418.7h1.6v1.5h-1.6zM621.2 418.7h1.6v4h-1.6zM624.2 418.7h1.6v0.5h-1.6zM628.2 418.7h1.6v0.5h-1.6zM631.2 418.7h1.6v2.4h-1.6zM634.2 418.7h1.6v0.5h-1.6zM638.2 418.7h1.6v0.5h-1.6zM641.2 418.7h1.6v0.5h-1.6zM645.2 418.7h1.6v2.4h-1.6zM648.2 418.7h1.6v1.6h-1.6zM651.2 418.7h1.6v0.5h-1.6zM655.2 418.7h1.6v1.2h-1.6zM658.2 418.7h1.6v8.8h-1.6zM662.2 418.7h1.6v4h-1.6zM665.2 418.7h1.6v5h-1.6zM669.2 418.7h1.6v7.5h-1.6zM672.2 418.7h1.6v4h-1.6zM675.2 418.7h1.6v0.5h-1.6zM679.2 418.7h1.6v7.5h-1.6zM682.2 418.7h1.6v9.9h-1.6zM686.2 418.7h1.6v4h-1.6zM689.2 418.7h1.6v5h-1.6zM693.2 418.7h1.6v6.7h-1.6zM696.2 418.7h1.6v0.5h-1.6zM699.2 418.7h1.6v2.7h-1.6zM703.2 418.7h1.6v24.7h-1.6zM706.2 418.7h1.6v11.3h-1.6zM710.2 418.7h1.6v11.7h-1.6zM713.2 418.7h1.6v9.7h-1.6zM716.2 418.7h1.6v9.7h-1.6zM720.2 418.7h1.6v0.8h-1.6zM723.2 418.7h1.6v0.8h-1.6zM727.2 418.7h1.6v3.5h-1.6zM730.2 418.7h1.6v6.7h-1.6zM734.2 418.7h1.6v8h-1.6zM737.2 418.7h1.6v21.3h-1.6zM740.2 418.7h1.6v41.3h-1.6zM744.2 418.7h1.6v4.7h-1.6zM747.2 418.7h1.6v4.5h-1.6zM751.2 418.7h1.6v20.5h-1.6zM754.2 418.7h1.6v6.7h-1.6zM758.2 418.7h1.6v5.5h-1.6zM761.2 418.7h1.6v6.7h-1.6zM764.2 418.7h1.6v6.7h-1.6zM768.2 418.7h1.6v1.9h-1.6zM771.2 418.7h1.6v0.5h-1.6zM775.2 418.7h1.6v1.6h-1.6zM778.2 418.7h1.6v11h-1.6zM781.2 418.7h1.6v3.8h-1.6zM785.2 418.7h1.6v2.7h-1.6zM788.2 418.7h1.6v2.7h-1.6zM792.2 418.7h1.6v0.5h-1.6zM795.2 418.7h1.6v0.5h-1.6zM799.2 418.7h1.6v1.9h-1.6zM802.2 418.7h1.6v5.5h-1.6zM805.2 418.7h1.6v4.7h-1.6zM809.2 418.7h1.6v9.7h-1.6zM812.2 418.7h1.6v0.5h-1.6zM816.2 418.7h1.6v0.5h-1.6zM819.2 418.7h1.6v1h-1.6zM823.2 418.7h1.6v4.7h-1.6zM826.2 418.7h1.6v13h-1.6zM829.2 418.7h1.6v4.3h-1.6zM833.2 418.7h1.6v14.7h-1.6zM836.2 418.7h1.6v8.8h-1.6zM840.2 418.7h1.6v5.5h-1.6zM843.2 418.7h1.6v11h-1.6zM847.2 418.7h1.6v87.7h-1.6zM850.2 418.7h1.6v21.3h-1.6zM853.2 418.7h1.6v14.7h-1.6zM857.2 418.7h1.6v6.3h-1.6zM860.2 418.7h1.6v6.7h-1.6zM864.2 418.7h1.6v1.9h-1.6zM867.2 418.7h1.6v4h-1.6zM870.2 418.7h1.6v7.7h-1.6zM874.2 418.7h1.6v14.7h-1.6zM877.2 418.7h1.6v10.5h-1.6zM881.2 418.7h1.6v11.7h-1.6zM884.2 418.7h1.6v7.2h-1.6zM888.2 418.7h1.6v1h-1.6zM891.2 418.7h1.6v1h-1.6zM894.2 418.7h1.6v7.8h-1.6zM898.2 418.7h1.6v8.8h-1.6zM901.2 418.7h1.6v5h-1.6zM905.2 418.7h1.6v2.7h-1.6zM908.2 418.7h1.6v2.7h-1.6zM912.2 418.7h1.6v0.5h-1.6zM915.2 418.7h1.6v0.5h-1.6zM918.2 418.7h1.6v2.7h-1.6zM922.2 418.7h1.6v17.8h-1.6zM925.2 418.7h1.6v17h-1.6zM929.2 418.7h1.6v7h-1.6zM932.2 418.7h1.6v5h-1.6zM935.2 418.7h1.6v1.2h-1.6zM939.2 418.7h1.6v5.6h-1.6zM942.2 418.7h1.6v6.7h-1.6zM946.2 418.7h1.6v11.5h-1.6zM949.2 418.7h1.6v8.8h-1.6zM953.2 418.7h1.6v9.4h-1.6zM956.2 418.7h1.6v19h-1.6zM959.2 418.7h1.6v5h-1.6zM963.2 418.7h1.6v2.7h-1.6zM966.2 418.7h1.6v5.9h-1.6zM970.2 418.7h1.6v10.7h-1.6zM973.2 418.7h1.6v9.4h-1.6zM977.2 418.7h1.6v4.6h-1.6zM980.2 418.7h1.6v4h-1.6zM983.2 418.7h1.6v1.9h-1.6zM987.2 418.7h1.6v0.5h-1.6zM990.2 418.7h1.6v7.8h-1.6zM994.2 418.7h1.6v2.7h-1.6zM997.2 418.7h1.6v2.4h-1.6zM1000.2 418.7h1.6v1h-1.6zM1004.2 418.7h1.6v2.7h-1.6zM1007.2 418.7h1.6v0.5h-1.6zM1011.2 418.7h1.6v0.5h-1.6zM1014.2 418.7h1.6v1h-1.6zM1018.2 418.7h1.6v1.5h-1.6zM1021.2 418.7h1.6v2.7h-1.6zM1024.2 418.7h1.6v1.5h-1.6zM1028.2 418.7h1.6v0.5h-1.6zM1031.2 418.7h1.6v0.5h-1.6zM1035.2 418.7h1.6v0.5h-1.6zM1038.2 418.7h1.6v7.8h-1.6zM1042.2 418.7h1.6v9h-1.6zM1045.2 418.7h1.6v11.5h-1.6zM1048.2 418.7h1.6v9.9h-1.6zM1052.2 418.7h1.6v2.7h-1.6zM1055.2 418.7h1.6v0.5h-1.6zM1059.2 418.7h1.6v0.5h-1.6zM1062.2 418.7h1.6v1.9h-1.6zM1065.2 418.7h1.6v9.4h-1.6zM1069.2 418.7h1.6v5h-1.6zM1072.2 418.7h1.6v13.5h-1.6zM1076.2 418.7h1.6v6.7h-1.6zM1079.2 418.7h1.6v0.5h-1.6zM1083.2 418.7h1.6v1h-1.6zM1086.2 418.7h1.6v0.8h-1.6zM1089.2 418.7h1.6v1h-1.6zM1093.2 418.7h1.6v0.5h-1.6z" fill="#ee4848"/>
<polyline points="101.6,296.2 102.9,287.4 106.7,279 110.4,295.4 113.9,284.2 117.2,285.4 120.7,286.9 123.9,287.4 127.4,264.6 131.1,270.7 134.2,266.7 137.7,268.3 141.1,294.6 144.6,295.7 148.1,303.8 151.8,297 154.9,292.7 158.4,296.2 162.1,307.6 165.6,304.9 168.8,304.6 172.1,305.7 175.6,322.9 179.1,320.1 182.5,317.7 186,318.8 189.5,302.5 192.8,301 196.3,301.3 199.5,291.7 203,294.6 206.4,297.3 209.9,293.3 213.4,292.5 216.7,294.3 220.2,297 223.4,297 226.9,293.3 230.3,285.8 233.8,277.1 237.3,262.7 240.6,258.8 244.1,254.8 246.9,243.1 250.4,245.2 254.4,231.2 257.8,230.1 261.3,228.8 264.8,232.5 268.1,229.6 271.3,232 274.8,228.2 278.3,231.7 281.7,235.2 284.8,238.8 288.3,232.9 291.8,232 295.2,215.7 298.7,198.2 302.2,168.8 305.6,175.1 309.1,168.6 312.4,171.1 315.9,165.1 319.4,138.3 322.8,161.1 326.3,149.9 329.8,144.4 333.1,138.5 336.3,137.7 339.8,135.6 343,120.5 346.7,123.7 350.2,115.7 353.7,124.5 357,133.2 360.5,154.7 363.7,137.7 367.2,141.7 370.5,172.2 374,140.9 377.5,152.3 380.9,163 384.4,160.6 387.7,145.2 391.1,130.8 394.6,130.4 397.9,133.2 401.4,126.8 404.8,130.8 408.3,132.4 411.6,124 415.1,132.4 418.6,153.1 422,149.9 425.3,137.7 428.8,140.9 432.2,136.1 435.7,133.2 439,122.9 442.5,134.8 445.9,127.6 448.9,129.2 452.6,145.2 456.1,158.7 459.6,151.5 463,163.5 466.5,162.2 469.8,175.4 473.3,163.8 476.8,160.3 480,156.3 483.5,155.5 486.9,146 490.4,148.3 493.9,159.2 497.2,158.2 500.7,161.9 504.2,163.8 507.6,165.9 511.1,161.9 514.6,177.8 517.9,192.1 521.4,186.6 524.6,166.7 528.1,161.1 531.5,160.3 535,164.6 538.5,169.4 541.8,176.2 545.3,165.9 548.7,177.8 552.2,177.8 555.7,173.8 559,166.7 562.4,173.8 565.9,149.1 569.2,153.9 572.7,145.2 576.1,145.6 579.6,148.8 582.9,123.7 586.4,129.2 589.9,134.8 593.1,140.9 596.4,137.2 599.9,133.7 603.2,137.7 606.7,133.2 610.2,138.8 613.6,142.5 617.1,138.3 620.6,142.8 623.9,142 627.4,141.5 630.9,135.6 634.3,126.8 637.5,124.9 641,126.8 644.5,133.7 647.8,133.7 651.3,131.9 654.8,133.2 658.2,143.6 661.7,139.3 665,146 668.3,150.4 671.7,149.1 675.2,147.2 678.5,148.3 682,154.7 685.5,156 688.9,156.8 692.4,160.3 695.7,159.2 699.2,165.1 702.6,180.2 705.9,172.7 709.4,177.5 712.8,173.5 716.3,180.5 719.6,177.5 723,167.5 726.5,167.1 729.8,170.6 733.3,180.2 736.9,198.6 740.3,201.1 743.6,192.7 746.9,206.5 750.4,201.4 753.8,193.5 757.3,195.5 760.8,197.5 764.1,194.3 767.5,186.8 770.8,177.5 774.3,156.4 777.7,154.8 781.2,160 784.7,160.8 788.2,147 791.5,144.1 794.9,139.8 798.4,142.5 801.9,150.5 805.2,153.3 808.6,151.8 812.1,140.6 815.4,139.8 818.9,139.3 822.3,145.7 825.8,149.2 829.1,156.8 832.5,153.7 836,174.8 839.3,178.3 842.6,192.7 846.1,217.8 849.5,205.4 853,211.3 856.3,172.3 859.8,176.8 863.2,177.5 866.7,189.5 870,186.3 873.5,179.1 877,190 880.4,195.9 883.5,188.4 887,185.2 890.5,191.1 893.9,184.7 897.4,187.9 900.7,175.6 904.2,179.9 907.7,160.4 911.1,160 914.6,158.9 917.9,166.7 921.4,184.7 924.9,187.9 928.2,185.8 931.8,186.8 935.1,187.9 938.6,197.8 942.1,187.4 945.4,196.7 948.9,193.8 952.3,204.1 955.8,218.2 959.1,216.6 962.5,212.6 966,199 969.3,195.9 972.8,197.5 976.2,193.2 979.7,178.8 983.2,182.6 986.5,187.1 989.9,192.4 993.4,180.7 996.9,174.4 1000.2,166.4 1003.7,165.1 1007.1,163.2 1010.6,162.7 1013.9,164 1017.4,158.8 1020.8,165.6 1024.3,154.5 1027.6,151.3 1030.9,150.6 1034.3,152.1 1037.8,165.2 1041.2,177.6 1044.6,178.9 1048,178.3 1051.4,171 1054.8,170.7 1058.2,167.1 1061.6,169.4 1065,170.3 1068.6,178.6 1072,180.9 1075.4,168.8 1078.8,165 1082.2,166.9 1085.7,149.9 1089.1,145.1 1092.8,141.9" fill="none" stroke="#454545" stroke-width="1.9" stroke-linejoin="round" stroke-linecap="round"/>
<polyline points="101.6,408.5 106.4,404.5 109.9,405 113.9,386.2 116.7,390.6 120.1,395.7 123.9,399.7 127.1,400.5 130.4,398.6 133.9,399.2 137.6,398.6 140.8,402.9 144.1,406.1 147.8,408.5 151.3,410.4 154.8,398.9 158.1,401.8 161.6,400.2 165,402.9 168.5,406.1 171.7,408.5 175.2,410.9 178.5,412.5 182,408.8 185.4,408.5 188.9,408.8 192.4,410.1 195.5,411.2 199,410.9 202.7,404.5 206.2,403.7 209.6,406.1 213.1,407.7 216.2,409.6 219.7,410.9 223.1,411.2 226.6,409.6 229.9,408.8 233.4,407.2 236.9,404.8 240.3,405.3 243.8,405.3 247.1,402.1 248.2,402.1 251.4,400.5 254.9,389.4 258.5,390.6 261.7,393.3 264.9,397 268.1,399.2 271.3,394.1 274.5,396.5 277.8,397.6 281.3,397.3 284.8,397 288.3,401 291.8,403.2 295,400.2 298.3,387.8 301.8,352.4 305.5,350.4 309,346.4 312.4,360.7 315.9,371.1 319.2,362.3 322.7,348.8 326.2,315 329.7,316 333.1,320 336.5,334 339.9,351 343.3,338 346.8,340 350.2,297 353.6,309 357,330 360.4,348 364.7,360.7 368.1,369.5 371.6,382.2 374.8,387 378,386.2 380.7,385.9 384.3,358.3 387.7,369.5 391.6,345.6 394.8,356.7 398,367.1 401.1,364.7 404.6,375.8 408,383.8 412,389 415,377.4 418.3,376.9 421.8,382.2 425.2,387.8 428.7,392.2 432,394.9 435.7,398.6 439,395.3 442.4,397.6 445.7,399.7 449.2,400.2 452.6,400.5 456.1,405.3 459.6,408.5 462.9,408.8 466.4,408.8 469.8,410.9 473.3,409.3 476.6,407.2 480.1,408.8 483.5,409.3 487,408.2 490.3,408.5 493.5,392.2 496.8,397.3 500.4,401.3 503.9,404.2 507.2,404.2 510.7,405.3 514,407.7 517.5,412.5 520.9,415.6 524.4,414 527.7,413.2 531.2,412.8 534.6,411.7 538.3,410.9 541.8,410.1 545.4,411.7 548.7,412.8 552.2,413.2 555.5,412.5 559,411.3 562.4,410.1 565.9,401.3 569.2,400.5 572.7,401 576.1,403.2 579.6,404.5 582.9,400.5 586.4,395.7 589.9,395.4 593.3,397.6 596.8,399.7 600.1,402.1 603.6,403.2 607,401.3 610.3,339 613.7,356.7 617.2,370.6 620.5,381.1 624,388.1 627.5,393.7 631,392.5 634.5,393.3 637.9,392.2 641.4,388.6 644.7,391.8 648.2,396.1 651.6,399.7 655.1,402.1 658.4,398.1 661.9,399.7 665.4,403.4 668.8,406.1 672.3,408.5 675.6,410.1 679.1,410.9 682.5,412.5 685.9,412.1 689.4,412.5 692.7,411.7 695.4,401.3 699.6,406.1 703.1,411.7 706.4,413.2 709.5,414 712.6,408.2 716.8,409.7 720.1,412 723.6,412.1 726.5,410.5 730.5,411.7 734,410.5 737.3,411.7 740.8,413.2 744.2,414 747.7,416.4 751,418.5 754.5,415.6 757.9,414.5 761.4,414.8 764.9,414.8 768.2,414.5 771.7,413.6 775.1,407.7 778.6,405.3 781.9,404.5 785.4,403.4 788.3,398.6 792.3,401.3 795.6,403.2 799.1,402.1 801.8,393.3 806,398.1 808.7,401.3 812.8,400.2 816.3,401.3 819.6,403.7 822.5,400.5 826.5,403.7 829.1,406.6 832.5,408.5 836,410.9 839.5,412.5 842.2,413.6 844.9,427.3 848.1,428.4 851.3,426.8 854.5,422.8 858,418 860.8,414 862.9,410.1 866.4,412 869.9,413.2 873.2,415.2 876.8,416.4 879.9,417.2 883.1,417.7 887.1,417.5 890.3,417.2 893.9,417.7 897.1,417.5 901,416.4 904.1,414.8 907.3,412.5 911.1,409.6 914.5,410.5 918,410.9 921,414 924.5,417.2 928,412.1 931.4,412.9 934.9,413.6 938.4,415.2 941.7,416.4 945.2,417.5 948.4,418 951.9,419.1 955.3,420.4 958.8,420.7 962.7,420.4 966.2,417.7 969.6,418.3 972.4,418.3 975.9,417.2 979.9,412.5 983.1,412.9 986.3,413.2 989.9,413.6 993.1,412.5 996.3,410.9 999.8,407.7 1003.3,403.2 1007,405 1010.6,406.9 1013.8,404.5 1017,405 1020.2,402.9 1024,401.6 1027.7,401 1030.9,402.6 1034,405.3 1037.5,408 1041.2,410.9 1044.4,413.2 1048.1,414.8 1051.2,413.6 1055.1,414 1058.2,414 1061.1,413.2 1065.1,378.7 1068.3,387.8 1071.9,396.5 1075,391.3 1078.3,394.9 1082.1,398.9 1085.3,399.7 1089,394.1 1092.2,394.1" fill="none" stroke="#1c1c1c" stroke-width="1.85" stroke-linejoin="round" stroke-linecap="round"/>
<line x1="101.5" x2="101.5" y1="86" y2="551.5" stroke="#555" stroke-width="1"/>
<line x1="1099.5" x2="1099.5" y1="86" y2="551.5" stroke="#45b298" stroke-width="1"/>
<g class="ax">
<text x="59.7" y="180" textLength="27.2" lengthAdjust="spacingAndGlyphs">$60k</text>
<text x="60" y="549.3" textLength="27" lengthAdjust="spacingAndGlyphs">$20k</text>
<text x="1114.5" y="150" textLength="25.4" lengthAdjust="spacingAndGlyphs">$10b</text>
<text x="1114.5" y="283.3" textLength="20.5" lengthAdjust="spacingAndGlyphs">$5b</text>
<text x="1114.5" y="416.3" textLength="13.4" lengthAdjust="spacingAndGlyphs">$0</text>
<text x="1114.5" y="549.4" textLength="25.4" lengthAdjust="spacingAndGlyphs">-$5b</text>
</g>
<g class="xl"><text x="82.8" y="578" textLength="40.3" lengthAdjust="spacingAndGlyphs">Jan '24</text><text x="188.4" y="578" textLength="41.3" lengthAdjust="spacingAndGlyphs">Feb '24</text><text x="287.3" y="578" textLength="42" lengthAdjust="spacingAndGlyphs">Mar '24</text><text x="394.5" y="578" textLength="39.7" lengthAdjust="spacingAndGlyphs">Apr '24</text><text x="495" y="578" textLength="44" lengthAdjust="spacingAndGlyphs">May '24</text><text x="602.7" y="578" textLength="40.7" lengthAdjust="spacingAndGlyphs">Jun '24</text><text x="707.6" y="578" textLength="36.3" lengthAdjust="spacingAndGlyphs">Jul '24</text><text x="810.4" y="578" textLength="42.7" lengthAdjust="spacingAndGlyphs">Aug '24</text><text x="916.9" y="578" textLength="42" lengthAdjust="spacingAndGlyphs">Sep '24</text><text x="1020.4" y="578" textLength="40.3" lengthAdjust="spacingAndGlyphs">Oct '24</text></g>
<text class="ft" x="26" y="625.5" textLength="251" lengthAdjust="spacingAndGlyphs">© 2024 Glassnode. All Rights Reserved.</text>
<g id="logo" fill="none" stroke="#111" stroke-width="2.9">
<!-- g -->
<circle cx="1054.2" cy="621.3" r="5.35"/><path d="M1060.1 614.2V632"/>
<!-- l -->
<path d="M1066.4 608.6V628.5"/>
<!-- a -->
<circle cx="1077.2" cy="621.3" r="5.35"/><path d="M1082.6 614.2V628.5"/>
<!-- s s -->
<path d="M1095.6 617.2c-0.72-1.5-1.98-2.2-3.6-2.2c-2.16 0-3.5 1.2-3.5 3c0 4.2 7.56 1.8 7.56 6.2c0 2-1.53 3.2-3.87 3.2c-1.98 0-3.42-0.9-4.14-2.6"/>
<path d="M1108.4 617.2c-0.72-1.5-1.98-2.2-3.6-2.2c-2.16 0-3.5 1.2-3.5 3c0 4.2 7.56 1.8 7.56 6.2c0 2-1.53 3.2-3.87 3.2c-1.98 0-3.42-0.9-4.14-2.6"/>
<!-- n -->
<path d="M1114.500 614.200V628.500M1114.500 620.300a4.550 4.800 0 0 1 9.100 0V628.500"/>
<!-- o -->
<circle cx="1135.3" cy="621.3" r="5.7"/>
<!-- d -->
<circle cx="1151.6" cy="621.3" r="5.35"/><path d="M1157 608.600V628.500"/>
<!-- e -->
<path d="M1162.700 621.300H1173.300a5.350 5.350 0 1 0 -1.550 4.050"/>
</g>
</svg>
</body></html>
